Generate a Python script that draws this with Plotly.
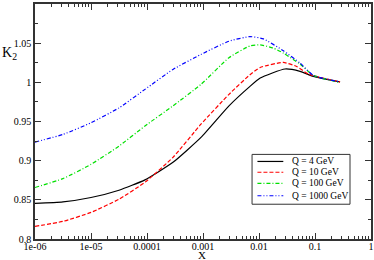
import plotly.graph_objects as go

# Values (x, K2)
x_black = [1e-6, 3.16e-6, 1e-5, 3.16e-5, 9.2e-5, 2.91e-4, 9.2e-4, 2.91e-3, 6.9e-3, 1.05e-2, 2.91e-2, 5.4e-2, 9.3e-2, 0.28]
k_black = [0.8454, 0.8474, 0.853, 0.8623, 0.8755, 0.8979, 0.9297, 0.970, 0.9949, 1.0055, 1.017, 1.014, 1.0076, 1.0005]

x_red = [1e-6, 3.16e-6, 1e-5, 3.16e-5, 9.2e-5, 2.91e-4, 9.2e-4, 2.91e-3, 6.9e-3, 1.05e-2, 2.72e-2, 4.7e-2, 7.6e-2, 0.28]
k_red = [0.8161, 0.8225, 0.834, 0.8508, 0.8725, 0.9042, 0.9466, 0.9847, 1.0097, 1.019, 1.0254, 1.0203, 1.0106, 1.0005]

x_green = [1e-6, 3.16e-6, 1e-5, 3.16e-5, 9.2e-5, 2.91e-4, 9.2e-4, 2.91e-3, 6.9e-3, 1.05e-2, 1.8e-2, 2.72e-2, 5.4e-2, 9.3e-2, 0.28]
k_green = [0.8657, 0.8771, 0.8953, 0.9186, 0.9443, 0.970, 0.9974, 1.0314, 1.0465, 1.0479, 1.0437, 1.0373, 1.0233, 1.0089, 0.9998]

x_blue = [1e-6, 3.16e-6, 1e-5, 3.16e-5, 9.2e-5, 2.91e-4, 9.2e-4, 2.91e-3, 6.9e-3, 1.2e-2, 2.72e-2, 5.4e-2, 9.3e-2, 0.28]
k_blue = [0.9237, 0.9335, 0.9484, 0.9674, 0.991, 1.0165, 1.0356, 1.0525, 1.0584, 1.0555, 1.0403, 1.0246, 1.0089, 1.0005]

names = ["Q = 4 GeV", "Q = 10 GeV", "Q = 100 GeV", "Q = 1000 GeV"]
colors = ["#000000", "#ff0000", "#00e000", "#0000ff"]
dashes = ["solid", "4px,2px", "4px,2px,1px,2px", "4px,2px,1px,2px,1px,2px"]

xtick_vals = [1e-6, 1e-5, 1e-4, 1e-3, 1e-2, 1e-1, 1]
xtick_text = ["1e-06", "1e-05", "0.0001", "0.001", "0.01", "0.1", "1"]

fig = go.Figure()
for xs, ks, n, c, d in zip([x_black, x_red, x_green, x_blue],
                           [k_black, k_red, k_green, k_blue], names, colors, dashes):
    fig.add_trace(go.Scatter(x=xs, y=ks, mode="lines", name=n, showlegend=False,
                             line=dict(color=c, width=1.2, dash=d, shape="spline", smoothing=0.5)))

minor_x = [m * 10.0**e for e in range(-6, 0) for m in range(2, 10)]

font = "Liberation Serif, Times New Roman, serif"
axcol = "#333333"
fig.update_layout(
    width=374, height=260,
    margin=dict(l=35, r=3, t=4, b=21),
    paper_bgcolor="white", plot_bgcolor="white",
    font=dict(family=font, size=10, color="black"),
    showlegend=False,
    xaxis=dict(type="log", range=[-6, 0], tickvals=xtick_vals, ticktext=xtick_text,
               ticks="inside", ticklen=6, tickwidth=1, tickcolor=axcol,
               showline=True, linecolor=axcol, linewidth=1.5, mirror="allticks",
               showgrid=False, zeroline=False, automargin=False, ticklabelstandoff=-3,
               minor=dict(tickvals=minor_x, ticks="inside", ticklen=3, tickcolor=axcol, showgrid=False),
               tickfont=dict(size=10, family=font)),
    yaxis=dict(range=[0.8, 1.1], dtick=0.05, tick0=0.8,
               ticks="inside", ticklen=6, tickwidth=1, tickcolor=axcol,
               showline=True, linecolor=axcol, linewidth=1.5, mirror="allticks",
               showgrid=False, zeroline=False, automargin=False,
               minor=dict(dtick=0.025, ticks="inside", ticklen=3, tickcolor=axcol, showgrid=False),
               tickfont=dict(size=10, family=font)),
)

# axis titles
fig.add_annotation(text="K<sub>2</sub>", xref="paper", yref="paper", x=-0.075, y=0.79,
                   showarrow=False, font=dict(size=14, family=font), xanchor="center", yanchor="middle")
fig.add_annotation(text="X", xref="paper", yref="paper", x=0.497, y=-0.066,
                   showarrow=False, font=dict(size=11, family=font), xanchor="center", yanchor="middle")

# legend box (drawn manually to match compact spacing)
lx0, lx1, ly0, ly1 = 0.646, 0.9375, 0.148, 0.360
fig.add_shape(type="rect", xref="paper", yref="paper", x0=lx0, x1=lx1, y0=ly0, y1=ly1,
              line=dict(color=axcol, width=1), fillcolor="white", layer="above")
row_y = [0.330, 0.284, 0.237, 0.184]
for n, c, d, yy in zip(names, colors, dashes, row_y):
    fig.add_shape(type="line", xref="paper", yref="paper", x0=0.662, x1=0.739, y0=yy, y1=yy,
                  line=dict(color=c, width=1.2, dash=d), layer="above")
    fig.add_annotation(text=n, xref="paper", yref="paper", x=0.758, y=yy, showarrow=False,
                       xanchor="left", yanchor="middle", font=dict(size=9.5, family=font))

fig.write_html("out.html", config={"displayModeBar": False},
               post_script="document.body.style.margin='0';document.body.style.padding='0';"
                           "document.body.style.overflow='hidden';")
